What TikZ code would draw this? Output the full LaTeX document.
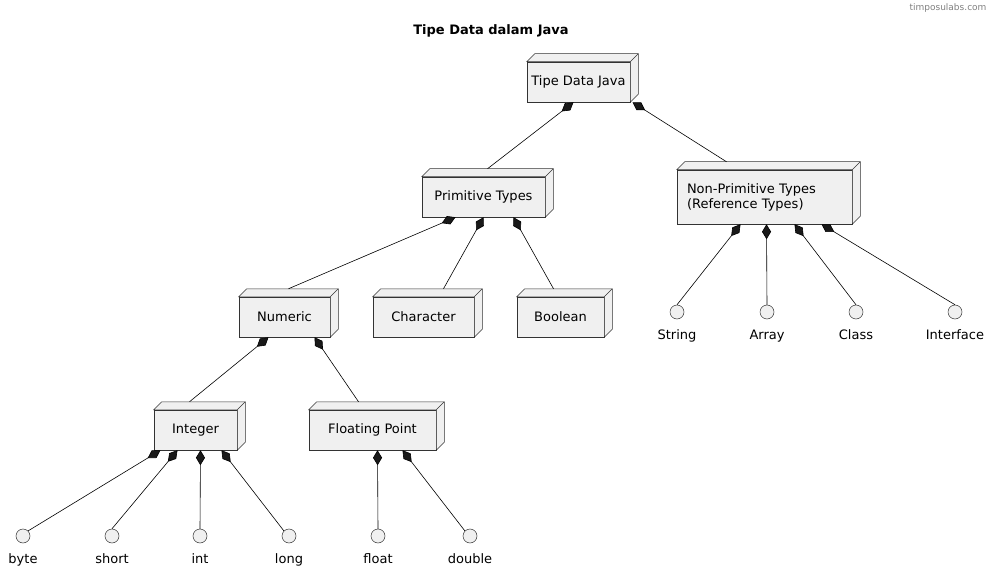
\documentclass[tikz,border=0pt]{standalone}
\usepackage{fontspec}
\setmainfont{DejaVu Sans}
\usetikzlibrary{arrows.meta}
\tikzset{
  box/.style={draw=black!80,fill=black!6,line width=0.5pt,minimum height=40pt,inner sep=0pt,font=\fontsize{13}{15}\selectfont,align=left},
  ifc/.style={circle,draw=black!80,fill=black!6,line width=0.5pt,minimum size=14pt,inner sep=0pt},
  lbl/.style={font=\fontsize{13}{15}\selectfont},
  comp/.style={line width=0.6pt,{Diamond[fill=black!90,length=15pt,width=9pt]}-}
}
\newcommand{\threed}[1]{%
  \filldraw[draw=black!80,fill=black!6,line width=0.5pt] (#1.north west) -- ++(8,-8) -| ([shift={(8,-8)}]#1.south east) -- (#1.south east) -- (#1.north east) -- cycle;
  \draw[black!80,line width=0.5pt] (#1.north east) -- ++(8,-8);}
\begin{document}
\begin{tikzpicture}[x=1pt,y=-1pt]
\useasboundingbox (0,0) rectangle (994,575);
\node[font=\fontsize{9}{11}\selectfont,text=black!50,anchor=north east] (wm) at (990,0) {timposulabs.com};
\node[font=\bfseries\fontsize{13}{15}\selectfont] (title) at (491,31) {Tipe Data dalam Java};
\node[box,minimum width=103pt] (tdj) at (578.5,82) {Tipe Data Java};
\node[box,minimum width=123pt] (prim) at (483.5,197) {Primitive Types};
\node[box,minimum width=175pt,minimum height=54pt,text width=155pt] (nonp) at (764.5,197) {Non-Primitive Types\\(Reference Types)};
\node[box,minimum width=91pt] (num) at (284.5,317) {Numeric};
\node[box,minimum width=101pt] (chr) at (423.5,317) {Character};
\node[box,minimum width=87pt] (bool) at (560.5,317) {Boolean};
\node[box,minimum width=83pt] (int) at (195.5,430) {Integer};
\node[box,minimum width=127pt] (flt) at (372.5,430) {Floating Point};
\foreach \n in {tdj,prim,nonp,num,chr,bool,int,flt}{\threed{\n}}
\foreach \n/\x/\y/\t in {s/677/312/String,a/767/312/Array,c/856/312/Class,i/955/312/Interface,by/23/536/byte,sh/112/536/short,in/200/536/int,lo/289/536/long,fl/378/536/float,do/470/536/double}{
  \node[ifc] (\n) at (\x,\y) {};
  \node[lbl,anchor=north] (\n l) at (\x,\y+14) {\t};
}
\draw[comp] ([xshift=-5]tdj.south) -- ([shift={(4,-8)}]prim.north);
\draw[comp] ([xshift=54]tdj.south) -- ([shift={(-38,-8)}]nonp.north);
\draw[comp] ([xshift=-28]prim.south) -- ([shift={(4,-8)}]num.north);
\draw[comp] ([xshift=0]prim.south) -- ([shift={(20,-8)}]chr.north);
\draw[comp] ([xshift=30]prim.south) -- ([shift={(-7,-8)}]bool.north);
\draw[comp] ([xshift=-24]nonp.south) -- (s.north);
\draw[comp] ([xshift=2]nonp.south) -- (a.north);
\draw[comp] ([xshift=30]nonp.south) -- (c.north);
\draw[comp] ([xshift=57]nonp.south) -- (i.north);
\draw[comp] ([xshift=-16]num.south) -- ([shift={(-6,-8)}]int.north);
\draw[comp] ([xshift=30]num.south) -- ([shift={(-14,-8)}]flt.north);
\draw[comp] ([xshift=-35]int.south) -- (by.north east);
\draw[comp] ([xshift=-18]int.south) -- (sh.north);
\draw[comp] ([xshift=5]int.south) -- (in.north);
\draw[comp] ([xshift=26]int.south) -- (lo.north west);
\draw[comp] ([xshift=5]flt.south) -- (fl.north);
\draw[comp] ([xshift=30]flt.south) -- (do.north west);
\end{tikzpicture}
\end{document}
